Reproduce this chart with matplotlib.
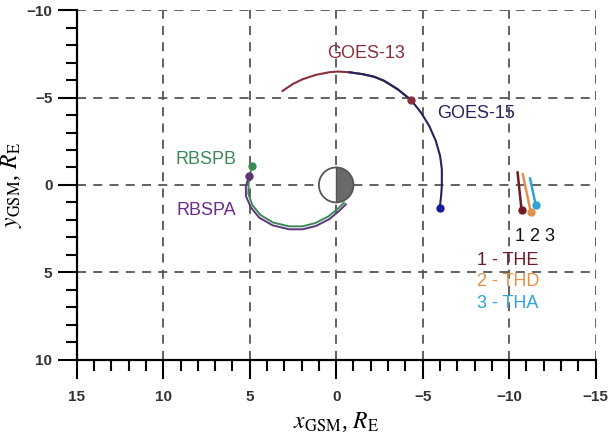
import numpy as np
import matplotlib.pyplot as plt
from matplotlib.patches import Wedge, Circle
from matplotlib.ticker import MultipleLocator

plt.rcParams['font.family'] = ['Liberation Sans', 'DejaVu Sans']
plt.rcParams['mathtext.fontset'] = 'stix'

# orbit traces (x_GSM, y_GSM), in R_E
goes13_x = [3.10, 2.52, 1.94, 1.17, 0.40, -0.08, -0.75, -1.53, -2.20, -2.77, -3.55, -4.32]
goes13_y = [-5.38, -5.77, -6.05, -6.30, -6.45, -6.49, -6.45, -6.34, -6.19, -5.96, -5.48, -4.87]
goes15_x = [-0.75, -1.53, -2.20, -2.77, -3.55, -4.32, -4.90, -5.38, -5.76, -6.01, -6.11,
            -6.11, -6.06, -5.99]
goes15_y = [-6.45, -6.34, -6.19, -5.96, -5.48, -4.87, -4.15, -3.38, -2.52, -1.66, -0.90,
             0.06, 0.70, 1.30]
rbspa_x = [5.03, 5.22, 5.22, 4.93, 4.45, 3.68, 2.72, 1.94, 1.17, 0.40, -0.17, -0.56]
rbspa_y = [-0.52, 0.06, 0.63, 1.29, 1.87, 2.31, 2.54, 2.54, 2.35, 1.96, 1.49, 1.11]
rbspb_x = [4.87, 5.05, 5.08, 4.85, 4.38, 3.65, 2.72, 1.94, 1.20, 0.45, -0.10, -0.45]
rbspb_y = [-1.09, -0.30, 0.50, 1.15, 1.72, 2.15, 2.37, 2.37, 2.18, 1.80, 1.36, 1.02]
the_x = [-10.49, -10.72]
the_y = [-0.71, 1.45]
thd_x = [-10.79, -11.25]
thd_y = [-0.61, 1.55]
tha_x = [-11.21, -11.54]
tha_y = [-0.37, 1.16]

c_g13 = '#8a2f3c'
c_g15 = '#24245e'
c_ra = '#5e3478'
c_rb = '#3a8a58'
c_the = '#6e1b28'
c_thd = '#e2914a'
c_tha = '#2ea3d6'

fig = plt.figure(figsize=(6.09, 4.44), dpi=100)
ax = fig.add_axes([0.126, 0.19, 0.852, 0.787])

ax.set_xlim(15, -15)
ax.set_ylim(10, -10)
ax.xaxis.set_major_locator(MultipleLocator(5))
ax.yaxis.set_major_locator(MultipleLocator(5))
ax.xaxis.set_minor_locator(MultipleLocator(1))
ax.yaxis.set_minor_locator(MultipleLocator(1))
ax.grid(True, which='major', color='#555555', linestyle=(0, (5, 4)), linewidth=1.3)
ax.set_axisbelow(True)

for s in ['top', 'right']:
    ax.spines[s].set_visible(False)
for s in ['left', 'bottom']:
    ax.spines[s].set_linewidth(1.6)
ax.tick_params(which='major', length=14, width=1.5, direction='out',
               labelsize=11, colors='black', labelcolor='#333333')
ax.tick_params(which='minor', length=8, width=1.5, direction='out')
ax.tick_params(axis='x', which='major', pad=8)
for lab in ax.get_xticklabels() + ax.get_yticklabels():
    lab.set_fontweight('bold')

# Earth
ax.add_patch(Wedge((0, 0), 1.0, -90, 90, facecolor='white', edgecolor='none', zorder=3))
ax.add_patch(Wedge((0, 0), 1.0, 90, 270, facecolor='#6a6a6a', edgecolor='none', zorder=3))
ax.add_patch(Circle((0, 0), 1.0, facecolor='none', edgecolor='#555555', linewidth=1.3, zorder=4))
ax.plot([0, 0], [-1, 1], color='#555555', linewidth=1.0, zorder=4)

# GOES
ax.plot(goes13_x, goes13_y, color=c_g13, linewidth=1.5, zorder=5)
ax.plot(goes15_x, goes15_y, color=c_g15, linewidth=1.5, zorder=6)
ax.plot(goes13_x[-1], goes13_y[-1], 'o', color=c_g13, markersize=5, zorder=7)
ax.plot(goes15_x[-1], goes15_y[-1], 'o', color='#1a1aa0', markersize=5, zorder=7)

# RBSP
ax.plot(rbspb_x, rbspb_y, color=c_rb, linewidth=1.4, zorder=5)
ax.plot(rbspa_x, rbspa_y, color=c_ra, linewidth=1.4, zorder=5)
ax.plot(rbspb_x[0], rbspb_y[0], 'o', color=c_rb, markersize=5, zorder=7)
ax.plot(rbspa_x[0], rbspa_y[0], 'o', color=c_ra, markersize=5, zorder=7)

# THEMIS
for xs, ys, c in [(the_x, the_y, c_the), (thd_x, thd_y, c_thd), (tha_x, tha_y, c_tha)]:
    ax.plot(xs, ys, color=c, linewidth=1.8, zorder=5)
    ax.plot(xs[-1], ys[-1], 'o', color=c, markersize=5, zorder=7)

# labels
fs = 13
ax.text(-1.72, -7.53, 'GOES-13', color=c_g13, fontsize=fs, ha='center', va='center')
ax.text(-8.08, -4.09, 'GOES-15', color=c_g15, fontsize=fs, ha='center', va='center')
ax.text(7.53, -1.47, 'RBSPB', color=c_rb, fontsize=fs, ha='center', va='center')
ax.text(7.53, 1.45, 'RBSPA', color='#6b2d8c', fontsize=fs, ha='center', va='center')
ax.text(-10.35, 2.94, '1 2 3', color='#111111', fontsize=fs, ha='left', va='center')
ax.text(-8.17, 4.33, '1 - THE', color=c_the, fontsize=fs, ha='left', va='center')
ax.text(-8.17, 5.52, '2 - THD', color=c_thd, fontsize=fs, ha='left', va='center')
ax.text(-8.17, 6.76, '3 - THA', color=c_tha, fontsize=fs, ha='left', va='center')

ax.set_xlabel(r'$x_{\mathrm{GSM}}$, $R_{\mathrm{E}}$', fontsize=17,
              family='Liberation Serif', labelpad=4)
ax.set_ylabel(r'$y_{\mathrm{GSM}}$, $R_{\mathrm{E}}$', fontsize=17,
              family='Liberation Serif', labelpad=2)

fig.savefig('out.png', dpi=100)
